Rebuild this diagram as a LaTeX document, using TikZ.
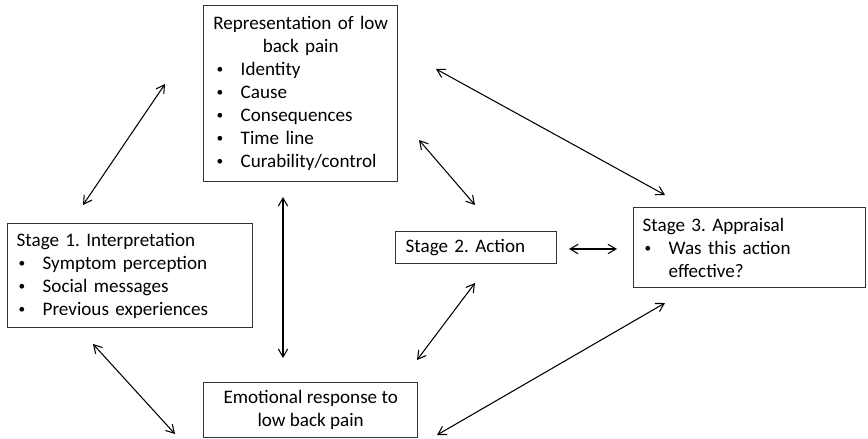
\documentclass[tikz,border=0pt]{standalone}
\usepackage{fontspec}
\usepackage{graphicx}
\setmainfont{Carlito}
\usetikzlibrary{arrows.meta}
\frenchspacing
\newcommand{\bul}{\hspace{0.06cm}\makebox[0.72cm][l]{\raisebox{0.1em}{\scalebox{0.7}{\textbullet}}}}
\newcommand{\ctr}[1]{\makebox[5.16cm][c]{#1}}

\begin{document}
\begin{tikzpicture}[x=0.03cm, y=-0.03cm, font=\fontsize{16.3}{19.6}\selectfont]
    \tikzstyle{box} = [rectangle, draw=black!80, line width=1.2pt, anchor=north west, inner xsep=0.27cm, inner ysep=0pt, align=left]
    \tikzstyle{arrow} = [line width=0.9pt, {Straight Barb[length=2.4mm,width=2.8mm]}-{Straight Barb[length=2.4mm,width=2.8mm]}]
    \useasboundingbox (0,0) rectangle (868,438);

    \node (rep) [box, inner xsep=0.33cm, text width=5.16cm, minimum height=5.28cm] at (203,5)
        {\ctr{Representation of low}\\ \ctr{back pain}\\ \bul Identity\\ \bul Cause\\ \bul Consequences\\ \bul Time line\\ \bul Curability/control};
    \node (stage1) [box, text width=6.81cm, minimum height=3.12cm] at (7,223)
        {Stage 1. Interpretation\\ \bul Symptom perception\\ \bul Social messages\\ \bul Previous experiences};
    \node (stage2) [box, inner xsep=0.3cm, text width=4.23cm, minimum height=0.96cm] at (395,231)
        {Stage 2. Action};
    \node (stage3) [box, text width=6.42cm, minimum height=2.4cm] at (633,207)
        {Stage 3. Appraisal\\ \bul Was this action\\ \hspace{0.78cm}effective?};
    \node (emo) [box, align=center, minimum width=6.42cm, minimum height=1.65cm] at (203,382)
        {Emotional response to\\ low back pain};

    % bouts des fleches
    \coordinate (s1r) at (83,205);   \coordinate (rs1) at (165,84);
    \coordinate (re) at (283,197);   \coordinate (er) at (283,358);
    \coordinate (rs2) at (419,140);  \coordinate (s2r) at (475,205);
    \coordinate (rs3) at (436,69);   \coordinate (s3r) at (665,195);
    \coordinate (s2s3) at (569,249); \coordinate (s3s2) at (617,249);
    \coordinate (s1e) at (93,344);   \coordinate (es1) at (175,434);
    \coordinate (es2) at (417,360);  \coordinate (s2e) at (475,283);
    \coordinate (es3) at (437,435);  \coordinate (s3e) at (665,303);

    \draw [arrow] (s1r) -- (rs1);
    \draw [arrow] (re) -- (er);
    \draw [arrow] (rs2) -- (s2r);
    \draw [arrow] (rs3) -- (s3r);
    \draw [arrow] (s2s3) -- (s3s2);
    \draw [arrow] (s1e) -- (es1);
    \draw [arrow] (es2) -- (s2e);
    \draw [arrow] (es3) -- (s3e);
\end{tikzpicture}
\end{document}
